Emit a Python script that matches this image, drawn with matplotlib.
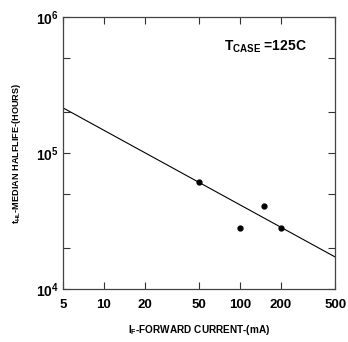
import numpy as np
import matplotlib
matplotlib.use("Agg")
import matplotlib.pyplot as plt
from matplotlib.ticker import FixedLocator, NullFormatter

# --- data ---
current_ma = [50, 100, 150, 200]
halflife_hr = [6.1e4, 2.8e4, 4.1e4, 2.8e4]

fit_current = [5, 500]
fit_halflife = [2.15e5, 1.72e4]

x_ticks = [5, 10, 20, 50, 100, 200, 500]
x_ticklabels = ["5", "10", "20", "50", "100", "200", "500"]
y_major = [1e4, 1e5, 1e6]
y_ticklabels = [r"$\mathbf{10^{4}}$", r"$\mathbf{10^{5}}$", r"$\mathbf{10^{6}}$"]
y_minor = [2e4, 5e4, 2e5, 5e5]

plt.rcParams['font.family'] = ['Liberation Sans', 'DejaVu Sans']
plt.rcParams['mathtext.fontset'] = 'custom'
plt.rcParams['mathtext.rm'] = 'Liberation Sans'
plt.rcParams['mathtext.bf'] = 'Liberation Sans:bold'

fig = plt.figure(figsize=(3.48, 3.42), dpi=100)
ax = fig.add_axes([0.181, 0.155, 0.782, 0.795])

ax.plot(fit_current, fit_halflife, color='black', lw=0.8)
ax.plot(current_ma, halflife_hr, 'o', color='black', ms=3.5)

ax.set_xscale('log')
ax.set_yscale('log')
ax.set_xlim(5, 500)
ax.set_ylim(1e4, 1e6)

ax.xaxis.set_major_locator(FixedLocator(x_ticks))
ax.set_xticklabels(x_ticklabels, fontweight='bold', fontsize=9.5)
ax.xaxis.set_minor_locator(FixedLocator([]))
ax.yaxis.set_major_locator(FixedLocator(y_major))
ax.set_yticklabels(y_ticklabels, fontsize=10)
ax.yaxis.set_minor_locator(FixedLocator(y_minor))
ax.yaxis.set_minor_formatter(NullFormatter())

ax.tick_params(which='both', direction='in', top=True, right=True, length=5, width=0.8, color='#333333')
ax.tick_params(axis='x', pad=7)
ax.tick_params(axis='y', pad=3)
for s in ax.spines.values():
    s.set_color('#444444')
    s.set_linewidth(0.9)

ax.text(0.59, 0.875, r"T$_{\mathbf{CASE}}$ =125C", transform=ax.transAxes,
        fontsize=10, fontweight='bold')

ax.set_xlabel(r"I$_{\mathbf{F}}$-FORWARD CURRENT-(mA)", fontsize=7.2, fontweight='bold',
              family=['Liberation Sans Narrow', 'Liberation Sans'], labelpad=9)
ax.set_ylabel(r"t$_{\mathbf{HL}}$-MEDIAN HALFLIFE-(HOURS)", fontsize=6.6, fontweight='bold',
              family=['Liberation Sans Narrow', 'Liberation Sans'], labelpad=9)

fig.savefig("out.png", dpi=100)
